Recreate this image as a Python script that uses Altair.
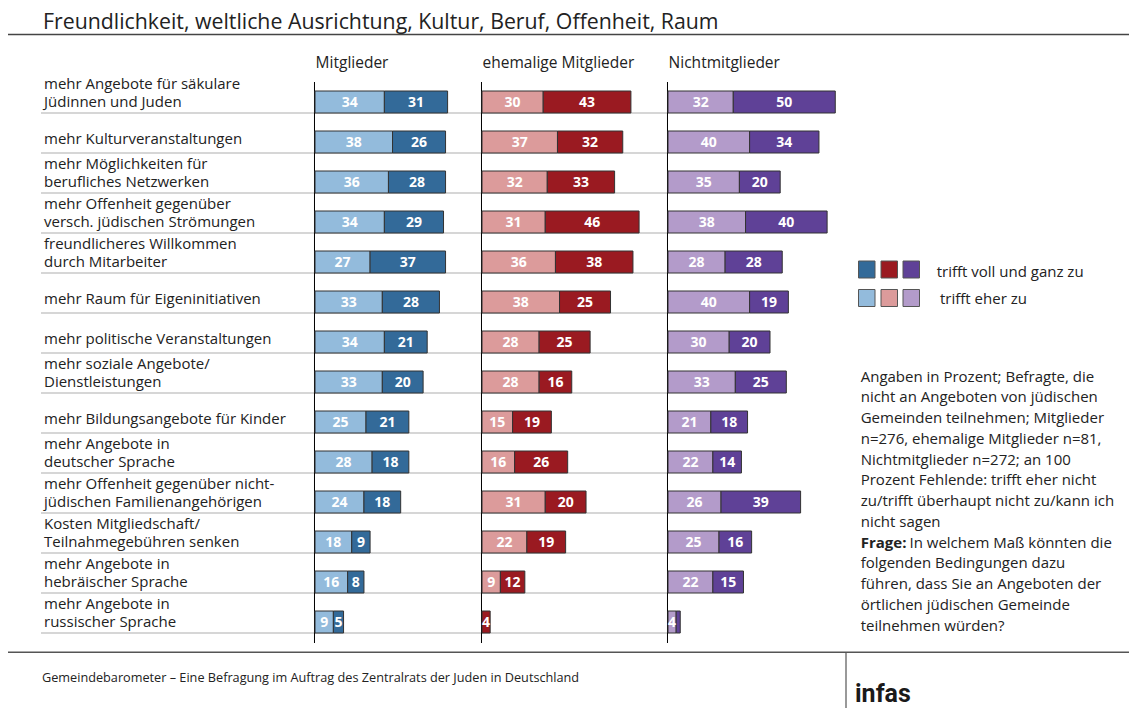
import altair as alt
import pandas as pd

# ---------------- data ----------------
labels = [
    "mehr Angebote für säkulare\nJüdinnen und Juden",
    "mehr Kulturveranstaltungen",
    "mehr Möglichkeiten für\nberufliches Netzwerken",
    "mehr Offenheit gegenüber\nversch. jüdischen Strömungen",
    "freundlicheres Willkommen\ndurch Mitarbeiter",
    "mehr Raum für Eigeninitiativen",
    "mehr politische Veranstaltungen",
    "mehr soziale Angebote/\nDienstleistungen",
    "mehr Bildungsangebote für Kinder",
    "mehr Angebote in\ndeutscher Sprache",
    "mehr Offenheit gegenüber nicht-\njüdischen Familienangehörigen",
    "Kosten Mitgliedschaft/\nTeilnahmegebühren senken",
    "mehr Angebote in\nhebräischer Sprache",
    "mehr Angebote in\nrussischer Sprache",
]
groups = ["Mitglieder", "ehemalige Mitglieder", "Nichtmitglieder"]

mit_eher = [34, 38, 36, 34, 27, 33, 34, 33, 25, 28, 24, 18, 16, 9]
mit_voll = [31, 26, 28, 29, 37, 28, 21, 20, 21, 18, 18, 9, 8, 5]
ehem_eher = [30, 37, 32, 31, 36, 38, 28, 28, 15, 16, 31, 22, 9, 0]
ehem_voll = [43, 32, 33, 46, 38, 25, 25, 16, 19, 26, 20, 19, 12, 4]
nicht_eher = [32, 40, 35, 38, 28, 40, 30, 33, 21, 22, 26, 25, 22, 4]
nicht_voll = [50, 34, 20, 40, 28, 19, 20, 25, 18, 14, 39, 16, 15, 2]

legend_labels = ["trifft voll und ganz zu", "trifft eher zu"]
title_text = "Freundlichkeit, weltliche Ausrichtung, Kultur, Beruf, Offenheit, Raum"
footer_text = "Gemeindebarometer \u2013 Eine Befragung im Auftrag des Zentralrats der Juden in Deutschland"
brand_text = "infas"
note_lines = [
    "Angaben in Prozent; Befragte, die",
    "nicht an Angeboten von jüdischen",
    "Gemeinden teilnehmen; Mitglieder",
    "n=276, ehemalige Mitglieder n=81,",
    "Nichtmitglieder n=272; an 100",
    "Prozent Fehlende: trifft eher nicht",
    "zu/trifft überhaupt nicht zu/kann ich",
    "nicht sagen",
]
question_bold = "Frage:"
question_lines = [
    "In welchem Maß könnten die",
    "folgenden Bedingungen dazu",
    "führen, dass Sie an Angeboten der",
    "örtlichen jüdischen Gemeinde",
    "teilnehmen würden?",
]

colors_light = ["#93bbdc", "#dc9b9b", "#b39bca"]
colors_dark = ["#336a99", "#9a1a21", "#5f4197"]

# ---------------- layout ----------------
W, H = 1121, 700
PX = 2.04          # pixels per percent
ROW0, ROWH, BARH = 94, 40, 22
base_px = [307, 474, 660]
FONT = "Open Sans"
TXT = "#222222"

eher = [mit_eher, ehem_eher, nicht_eher]
voll = [mit_voll, ehem_voll, nicht_voll]

recs = []
for i in range(len(labels)):
    for gi, g in enumerate(groups):
        off = base_px[gi] / PX
        e, v = eher[gi][i], voll[gi][i]
        recs.append(dict(row=i, key=f"{gi}e", start=off, end=off + e, value=e))
        recs.append(dict(row=i, key=f"{gi}v", start=off + e, end=off + e + v, value=v))
bars_df = pd.DataFrame(recs)
bars_df = bars_df[bars_df.value > 0]

keys = [f"{gi}{l}" for gi in range(3) for l in ("e", "v")]
krange = [c for gi in range(3) for c in (colors_light[gi], colors_dark[gi])]

xscale = alt.Scale(domain=[0, W / PX], range=[0, W], nice=False, zero=False)
yscale = alt.Scale(domain=[-ROW0 / ROWH, (H - ROW0) / ROWH], reverse=True, nice=False, zero=False)
half = BARH / 2 / ROWH

rows_df = pd.DataFrame({"row": list(range(len(labels))), "label": labels})
rows_df["lines"] = rows_df.label.str.count("\n") + 1
groups_df = pd.DataFrame({"group": groups, "off": [b / PX for b in base_px]})

# separators
sep = alt.Chart(rows_df).transform_calculate(yb=f"datum.row + {half}").mark_rule(
    color="#c8c8c8", strokeWidth=1.5
).encode(
    y=alt.Y("yb:Q", scale=yscale, axis=None),
    x=alt.value(33), x2=alt.value(660),
)

# vertical axis lines
axes = alt.Chart(groups_df).transform_calculate(ax="datum.off - 0.25").mark_rule(
    color="#000000", strokeWidth=1
).encode(
    x=alt.X("ax:Q", scale=xscale, axis=None),
    y=alt.value(74), y2=alt.value(635),
)

headers = alt.Chart(groups_df).transform_calculate(hx="datum.off + 0.3").mark_text(
    align="left", baseline="alphabetic", font=FONT, fontSize=15.5, color=TXT
).encode(
    x=alt.X("hx:Q", scale=xscale, axis=None),
    y=alt.value(60),
    text="group:N",
)

bars = alt.Chart(bars_df).transform_calculate(
    y0=f"datum.row - {half}", y1=f"datum.row + {half}"
).mark_rect(stroke="#333333", strokeWidth=1).encode(
    x=alt.X("start:Q", scale=xscale, axis=None),
    x2="end:Q",
    y=alt.Y("y0:Q", scale=yscale, axis=None),
    y2="y1:Q",
    color=alt.Color("key:N", scale=alt.Scale(domain=keys, range=krange), legend=None),
)

vals = alt.Chart(bars_df).transform_filter("datum.value >= 3").transform_calculate(
    xm="(datum.start + datum.end) / 2"
).mark_text(
    font=FONT, fontSize=14, fontWeight="bold", color="white", baseline="middle", dy=1
).encode(
    x=alt.X("xm:Q", scale=xscale, axis=None),
    y=alt.Y("row:Q", scale=yscale, axis=None),
    text="value:Q",
)

LFS = 15
lab1 = alt.Chart(rows_df).transform_filter("datum.lines == 1").mark_text(
    align="left", baseline="alphabetic", font=FONT, fontSize=LFS, color=TXT, dy=2
).encode(
    x=alt.value(36), y=alt.Y("row:Q", scale=yscale, axis=None), text="label:N"
)
lab2 = alt.Chart(rows_df).transform_filter("datum.lines == 2").mark_text(
    align="left", baseline="alphabetic", font=FONT, fontSize=LFS, color=TXT,
    dy=-12.7, lineBreak="\n", lineHeight=17.4
).encode(
    x=alt.value(36), y=alt.Y("row:Q", scale=yscale, axis=None), text="label:N"
)

# decorations
one = pd.DataFrame({"a": [0]})
title = alt.Chart(pd.DataFrame({"t": [title_text]})).mark_text(
    align="left", baseline="alphabetic", font=FONT, fontSize=21.3, color=TXT
).encode(x=alt.value(35), y=alt.value(20.5), text="t:N")
tline = alt.Chart(one).mark_rule(color="#444444", strokeWidth=1.3).encode(
    x=alt.value(0), x2=alt.value(W), y=alt.value(26.5))
fline = alt.Chart(one).mark_rule(color="#555555", strokeWidth=1.5).encode(
    x=alt.value(0), x2=alt.value(W), y=alt.value(644.3))
vline = alt.Chart(one).mark_rule(color="#555555", strokeWidth=1.2).encode(
    x=alt.value(838), y=alt.value(644.3), y2=alt.value(H))
footer = alt.Chart(pd.DataFrame({"t": [footer_text]})).mark_text(
    align="left", baseline="alphabetic", font=FONT, fontSize=12.7, color=TXT
).encode(x=alt.value(34), y=alt.value(673.5), text="t:N")
brand = alt.Chart(pd.DataFrame({"t": [brand_text]})).mark_text(
    align="left", baseline="alphabetic", font="Roboto",
    fontSize=25, fontWeight="bold", color="#1a1a1a"
).encode(x=alt.value(847), y=alt.value(694), text="t:N")

layers = [sep, axes, headers, bars, vals, lab1, lab2, title, tline, fline, vline, footer, brand]

# legend swatches
sw_x = [850.5, 873, 895]
sw_y = [253, 281.5]
for li, cols in enumerate([colors_dark, colors_light]):
    for ci in range(3):
        layers.append(alt.Chart(one).mark_rect(color=cols[ci], stroke="#555555", strokeWidth=1).encode(
            x=alt.value(sw_x[ci]), x2=alt.value(sw_x[ci] + 16.5),
            y=alt.value(sw_y[li]), y2=alt.value(sw_y[li] + 17)))
for li, (lx, ly) in enumerate([(928.7, 268.7), (932, 296)]):
    layers.append(alt.Chart(pd.DataFrame({"t": [legend_labels[li]]})).mark_text(
        align="left", baseline="alphabetic", font=FONT, fontSize=15, color=TXT
    ).encode(x=alt.value(lx), y=alt.value(ly), text="t:N"))

# notes
NX, NY, NLH, NFS = 852.7, 373.7, 20.75, 15
layers.append(alt.Chart(pd.DataFrame({"t": ["\n".join(note_lines)]})).mark_text(
    align="left", baseline="alphabetic", font=FONT, fontSize=NFS, color=TXT,
    lineBreak="\n", lineHeight=NLH
).encode(x=alt.value(NX), y=alt.value(NY), text="t:N"))
qy = NY + len(note_lines) * NLH
layers.append(alt.Chart(pd.DataFrame({"t": [question_bold]})).mark_text(
    align="left", baseline="alphabetic", font=FONT, fontSize=NFS, fontWeight="bold", color=TXT
).encode(x=alt.value(NX), y=alt.value(qy), text="t:N"))
layers.append(alt.Chart(pd.DataFrame({"t": [question_lines[0]]})).mark_text(
    align="left", baseline="alphabetic", font=FONT, fontSize=NFS, color=TXT
).encode(x=alt.value(901.5), y=alt.value(qy), text="t:N"))
layers.append(alt.Chart(pd.DataFrame({"t": ["\n".join(question_lines[1:])]})).mark_text(
    align="left", baseline="alphabetic", font=FONT, fontSize=NFS, color=TXT,
    lineBreak="\n", lineHeight=NLH
).encode(x=alt.value(NX), y=alt.value(qy + NLH), text="t:N"))

chart = alt.layer(*layers).properties(
    width=W, height=H, autosize=alt.AutoSizeParams(type="none"), padding=0,
    background="white"
).configure_view(stroke=None)

chart.save("out.html", embed_options={"renderer": "svg", "actions": False})
